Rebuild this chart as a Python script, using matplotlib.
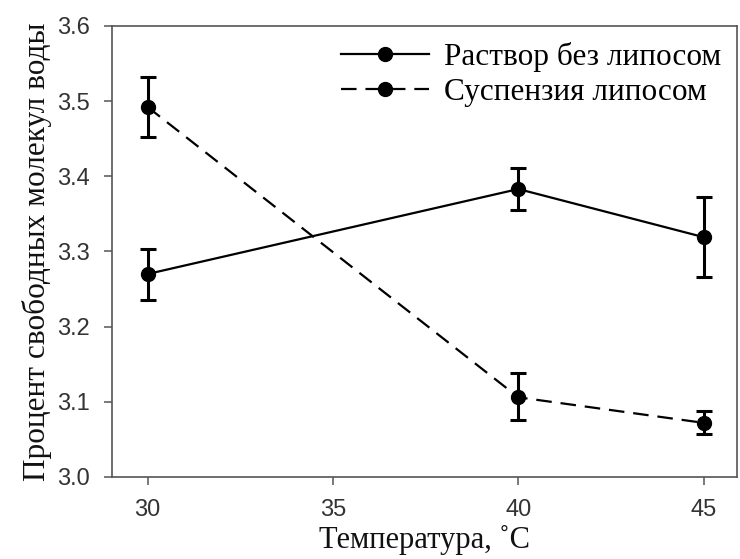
import matplotlib
matplotlib.use("Agg")
import matplotlib.pyplot as plt
from matplotlib.lines import Line2D

# data
temps = [30, 40, 45]
solution_mean = [3.270, 3.383, 3.319]
solution_err_lo = [0.035, 0.028, 0.053]
solution_err_hi = [0.033, 0.028, 0.054]
suspension_mean = [3.492, 3.106, 3.072]
suspension_err_lo = [0.040, 0.030, 0.015]
suspension_err_hi = [0.040, 0.032, 0.016]

labels = ["Раствор без липосом", "Суспензия липосом"]
xticks = [30, 35, 40, 45]
yticks = [3.0, 3.1, 3.2, 3.3, 3.4, 3.5, 3.6]

DASH = (0, (7, 4))

fig = plt.figure(figsize=(7.4, 5.59), dpi=100)
ax = fig.add_axes([0.151, 0.1467, 0.845, 0.807])

common = dict(color="black", marker="o", markersize=10, linewidth=1.6,
              ecolor="black", elinewidth=2.2, capsize=6, capthick=2.2)
ax.errorbar(temps, solution_mean, yerr=[solution_err_lo, solution_err_hi],
            linestyle="-", **common)
ax.errorbar(temps, suspension_mean, yerr=[suspension_err_lo, suspension_err_hi],
            linestyle=DASH, **common)

ax.set_xlim(29.03, 45.9)
ax.set_ylim(3.0, 3.6)
ax.set_xticks(xticks)
ax.set_yticks(yticks)
ax.set_yticklabels([f"{v:.1f}" for v in yticks])

for s in ax.spines.values():
    s.set_color("#555555")
    s.set_linewidth(1.2)
ax.tick_params(direction="out", length=6, width=1.1, color="#555555",
               labelsize=17, labelcolor="#333333", pad=10,
               labelfontfamily="Liberation Sans")

ax.set_xlabel("Температура, ˚C", family="Liberation Serif", fontsize=22,
              color="#111111", labelpad=3)
ax.set_ylabel("Процент свободных молекул воды", family="Liberation Serif",
              fontsize=22.5, color="#111111", labelpad=3)

handles = [
    Line2D([], [], color="black", linestyle="-", linewidth=1.6,
           marker="o", markersize=10),
    Line2D([], [], color="black", linestyle=DASH, linewidth=1.6,
           marker="o", markersize=10),
]
ax.legend(handles, labels, loc="upper right", frameon=False,
          handlelength=2.8, prop={"family": "Liberation Serif", "size": 22.5},
          borderaxespad=0.1, handletextpad=0.5, labelspacing=0.2)

fig.savefig("out.png", dpi=100)
